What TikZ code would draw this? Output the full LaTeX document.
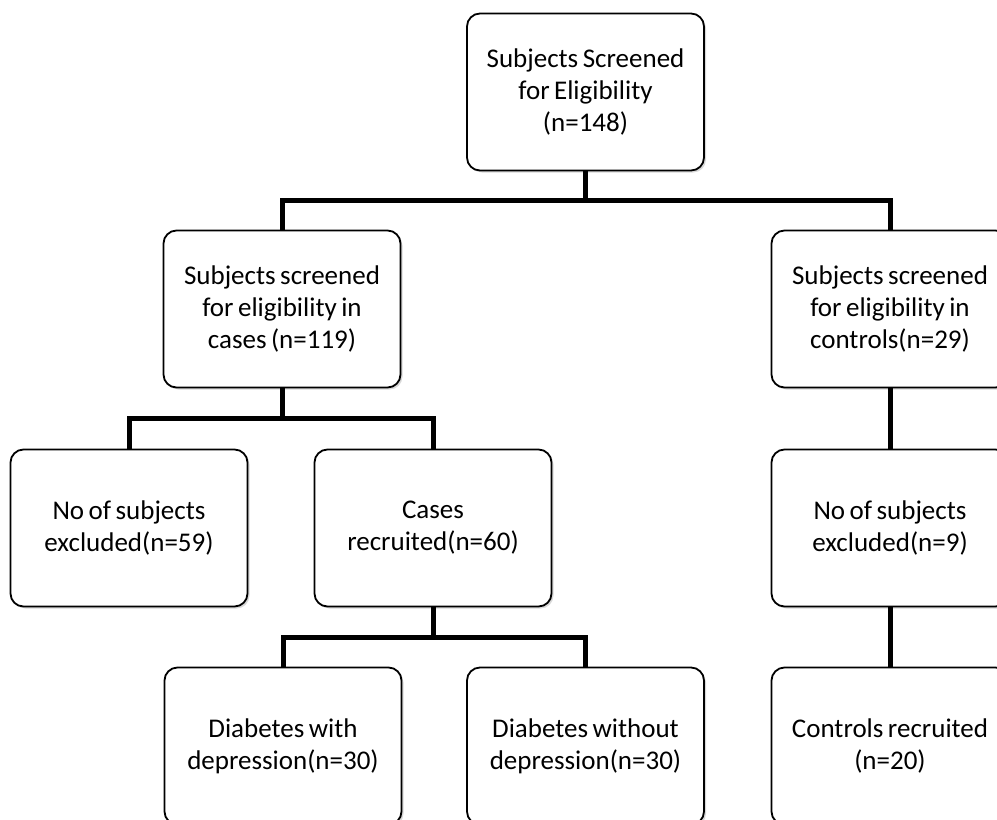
\documentclass[tikz,border=0pt]{standalone}
\usepackage{fontspec}
\setmainfont{Carlito}
\usetikzlibrary{shadows}

\begin{document}
\begin{tikzpicture}[x=1pt, y=-1pt,
	block/.style={rectangle, draw=black, line width=1.8pt, rounded corners=13pt, fill=white, minimum width=237pt, minimum height=157pt, align=center, text width=232pt, inner sep=0pt, font=\fontsize{27}{32}\selectfont, execute at begin node={\spaceskip=4.5pt\relax}, drop shadow={shadow xshift=2pt, shadow yshift=-2pt, fill=black!30}},
	link/.style={draw=black, line width=5pt}]
				\useasboundingbox (0,0) rectangle (997,820);
				\clip (0,0) rectangle (997,820);
				
				\node[block] (top) at (585.5,92){Subjects Screened\\for Eligibility\\(n=148)};
				\node[block] (cases) at (282,309){Subjects screened\\for eligibility in\\cases (n=119)};
				\node[block] (ctrls) at (890,309){Subjects screened\\for eligibility in\\controls(n=29)};
				\node[block] (excl) at (129,528){No of subjects\\excluded(n=59)};
				\node[block] (recr) at (433,528){Cases\\recruited(n=60)};
				\node[block] (exclc) at (890,528){No of subjects\\excluded(n=9)};
				\node[block] (withdep) at (283,746){Diabetes with\\depression(n=30)};
				\node[block] (nodep) at (585.5,746){Diabetes without\\depression(n=30)};
				\node[block] (ctrlrec) at (890,746){Controls recruited\\(n=20)};
				
				\coordinate (j1) at (585.5,200);
				\coordinate (j2) at (282,418);
				\coordinate (j3) at (433,637);
				
				\path[link] (top) -- (j1);
				\path[link] (cases) |- (j1) -| (ctrls);
				\path[link] (cases) -- (j2);
				\path[link] (excl) |- (j2) -| (recr);
				\path[link] (recr) -- (j3);
				\path[link] (withdep) |- (j3) -| (nodep);
				\path[link] (ctrls) -- (exclc);
				\path[link] (exclc) -- (ctrlrec);
\end{tikzpicture}
\end{document}
